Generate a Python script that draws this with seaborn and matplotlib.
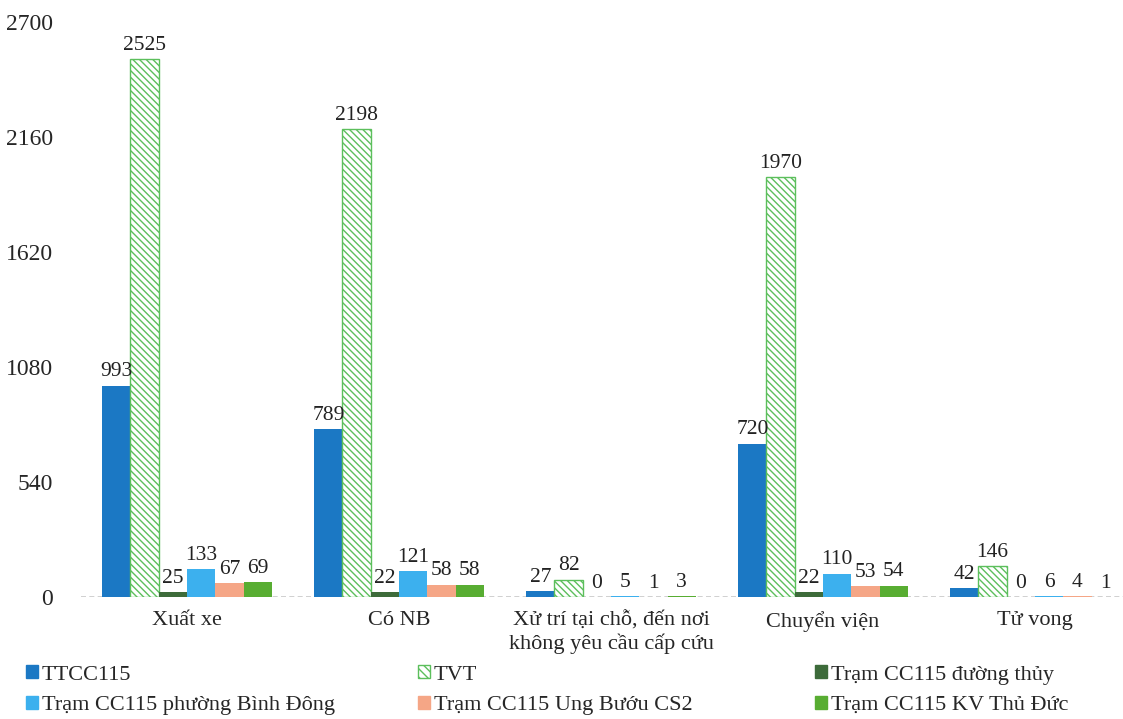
import matplotlib
matplotlib.use("Agg")
import matplotlib.pyplot as plt
import seaborn as sns
import pandas as pd
from matplotlib.patches import Patch

categories = ["Xuất xe", "Có NB", "Xử trí tại chỗ, đến nơi\nkhông yêu cầu cấp cứu", "Chuyển viện", "Tử vong"]
series = ["TTCC115", "TVT", "Trạm CC115 đường thủy", "Trạm CC115 phường Bình Đông",
          "Trạm CC115 Ung Bướu CS2", "Trạm CC115 KV Thủ Đức"]
ttcc115 = [993, 789, 27, 720, 42]
tvt = [2525, 2198, 82, 1970, 146]
duong_thuy = [25, 22, 0, 22, 0]
binh_dong = [133, 121, 5, 110, 6]
ung_buou = [67, 58, 1, 53, 4]
thu_duc = [69, 58, 3, 54, 1]
yticks = [0, 540, 1080, 1620, 2160, 2700]

values = [ttcc115, tvt, duong_thuy, binh_dong, ung_buou, thu_duc]
rows = []
for s, vals in zip(series, values):
    for c, v in zip(categories, vals):
        rows.append({"cat": c, "series": s, "value": v})
df = pd.DataFrame(rows)

colors = ["#1b78c4", "#ffffff", "#3d6b3a", "#3cb0ee", "#f5a686", "#58ad32"]

sns.set_style("white")
plt.rcParams["font.family"] = ["Liberation Serif", "DejaVu Serif"]
plt.rcParams["hatch.linewidth"] = 1.0

fig = plt.figure(figsize=(11.23, 7.19), dpi=100)
ax = fig.add_axes([81/1123, (719-597)/719, 1060/1123, (597-22)/719])

sns.barplot(data=df, x="cat", y="value", hue="series", hue_order=series,
            order=categories, palette=colors, width=0.8, ax=ax, legend=False,
            saturation=1, linewidth=0)

tvt_green = "#5cbf5c"
for i, cont in enumerate(ax.containers):
    for bar in cont:
        if i == 1:
            bar.set_facecolor("white")
            bar.set_edgecolor(tvt_green)
            bar.set_hatch("\\\\\\\\\\")
            bar.set_linewidth(1.0)
    ax.bar_label(cont, labels=[str(v) for v in values[i]], padding=3, fontsize=15.5, color="#222222")

ax.set_ylim(0, 2700)
ax.set_xlim(-0.5, 4.5)
ax.set_yticks(yticks)
ax.set_yticklabels([str(t) for t in yticks], fontsize=17)
ax.tick_params(axis="y", length=0, pad=20)
ax.tick_params(axis="x", length=0, pad=10, labelsize=16)
ax.set_xlabel("")
ax.set_ylabel("")
for sp in ax.spines.values():
    sp.set_visible(False)
ax.axhline(0, color="#c8c8c8", lw=1.2, ls=(0, (3, 2)), zorder=0)

handles = []
for s, c in zip(series, colors):
    if s == "TVT":
        handles.append(Patch(facecolor="white", edgecolor=tvt_green, hatch="\\\\\\\\", label=s))
    else:
        handles.append(Patch(facecolor=c, edgecolor=c, label=s))

col_x = [26/1123, 418/1123, 815/1123]
col_items = [[0, 3], [1, 4], [2, 5]]
for x, items in zip(col_x, col_items):
    fig.legend([handles[i] for i in items], [series[i] for i in items],
               ncol=1, loc="upper left", bbox_to_anchor=(x, 54/719),
               frameon=False, fontsize=16, handlelength=0.55, handleheight=0.55,
               handletextpad=0.15, labelspacing=0.5,
               borderaxespad=0, borderpad=0)

fig.savefig("out.png", dpi=100)
